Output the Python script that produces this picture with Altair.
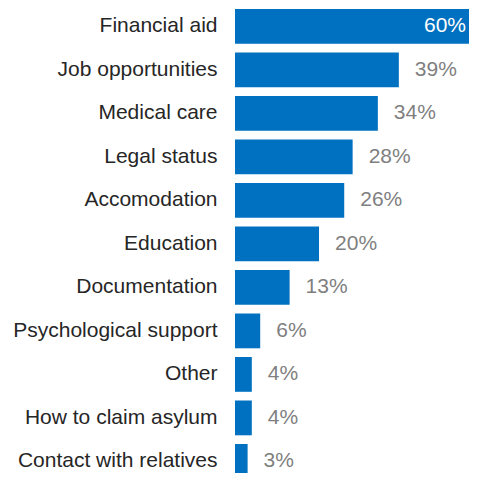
import altair as alt
import pandas as pd

categories = [
    "Financial aid", "Job opportunities", "Medical care", "Legal status",
    "Accomodation", "Education", "Documentation", "Psychological support",
    "Other", "How to claim asylum", "Contact with relatives",
]
values = [60, 39, 34, 28, 26, 20, 13, 6, 4, 4, 3]
labels = [f"{v}%" for v in values]

df = pd.DataFrame({"cat": categories, "val": values, "label": labels})

FONT = "Liberation Sans"
BLUE = "#0070C0"

y = alt.Y(
    "cat:N",
    sort=None,
    title=None,
    scale=alt.Scale(range=[1, 470.8], paddingInner=0.2, paddingOuter=0),
    axis=alt.Axis(
        ticks=False, domain=False, grid=False, labelFont=FONT,
        labelFontSize=21, labelColor="#262626", labelPadding=18,
        labelLimit=400,
    ),
)
x = alt.X("val:Q", title=None, axis=None, scale=alt.Scale(domain=[0, 55.7], nice=False, zero=True))

base = alt.Chart(df)

bars = base.mark_bar(color=BLUE, clip=True).encode(x=x, y=y)

outside = base.transform_filter("datum.val < 50").mark_text(
    align="left", baseline="middle", dx=16, font=FONT, fontSize=21, color="#7F7F7F"
).encode(x=x, y=y, text="label:N")

inside = base.transform_filter("datum.val >= 50").mark_text(
    align="right", baseline="middle", font=FONT, fontSize=21, color="white"
).encode(x=alt.value(231), y=y, text="label:N")

chart = (
    alt.layer(bars, outside, inside)
    .properties(
        width=234, height=465,
        autosize=alt.AutoSizeParams(type="none"),
        padding={"left": 227, "top": 0, "right": 0, "bottom": 0},
    )
    .configure_view(stroke=None)
)

chart.save("out.html", embed_options={"renderer": "svg", "actions": False})
